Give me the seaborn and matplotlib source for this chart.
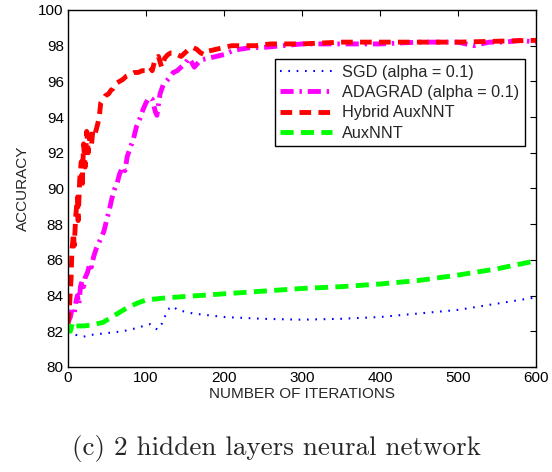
import matplotlib
matplotlib.use("Agg")
import matplotlib.pyplot as plt
import seaborn as sns
import pandas as pd

# ---------------- data ----------------
hyb_x = [0, 2, 4, 5, 7, 8, 10, 12, 13, 15, 17, 18, 20, 22, 24, 26, 28, 30, 32, 35, 38,
         40, 42, 45, 48, 52, 55, 58, 62, 66, 70, 75, 80, 85, 90, 95, 100, 105, 108, 112,
         116, 120, 124, 128, 132, 136, 140, 145, 150, 155, 160, 165, 170, 175, 180, 190,
         200, 210, 220, 240, 260, 280, 300, 350, 400, 450, 500, 550, 600]
hyb_y = [82.4, 83.5, 85.0, 86.5, 87.5, 86.8, 88.5, 89.5, 88.2, 90.5, 91.5, 90.0, 92.5, 91.2,
         93.2, 92.0, 93.0, 92.4, 93.3, 93.1, 93.6, 94.0, 94.8, 95.0, 95.2, 95.3, 95.5, 95.6,
         95.9, 96.0, 96.1, 96.3, 96.4, 96.5, 96.5, 96.6, 96.6, 96.8, 96.6, 97.3, 97.4, 96.8,
         97.3, 97.5, 97.6, 97.6, 97.5, 97.4, 97.6, 97.8, 97.9, 97.8, 97.6, 97.5, 97.7, 97.8,
         97.9, 98.0, 98.0, 98.0, 98.1, 98.1, 98.1, 98.2, 98.2, 98.2, 98.2, 98.25, 98.3]

ada_x = [0, 3, 5, 8, 10, 12, 14, 16, 18, 20, 22, 25, 28, 30, 33, 36, 40, 43, 46, 50, 53,
         56, 60, 63, 66, 70, 73, 76, 80, 84, 88, 92, 96, 100, 104, 108, 112, 114, 118, 122,
         126, 130, 135, 140, 145, 150, 155, 158, 162, 166, 170, 180, 190, 200, 210, 220,
         235, 250, 275, 300, 350, 400, 450, 500, 520, 540, 560, 580, 600]
ada_y = [82.5, 82.8, 83.2, 83.0, 83.6, 84.0, 83.5, 84.5, 84.8, 84.5, 85.0, 85.3, 85.8, 85.6,
         86.2, 86.6, 87.0, 87.3, 87.6, 88.3, 88.8, 89.4, 90.0, 90.3, 90.8, 91.2, 91.0, 91.8,
         92.3, 92.8, 93.5, 93.9, 94.4, 94.8, 95.1, 95.0, 94.3, 94.1, 95.3, 95.8, 96.0, 96.2,
         96.5, 96.6, 96.8, 97.0, 97.3, 97.1, 96.8, 97.0, 97.2, 97.3, 97.4, 97.5, 97.7, 97.8,
         97.9, 97.9, 98.0, 98.1, 98.1, 98.1, 98.2, 98.2, 98.0, 98.2, 98.2, 98.3, 98.2]

sgd_x = [0, 5, 10, 20, 30, 50, 70, 90, 100, 105, 110, 115, 120, 125, 130, 135, 140, 160,
         180, 200, 250, 300, 350, 400, 450, 500, 550, 600]
sgd_y = [82.0, 81.9, 81.8, 81.7, 81.8, 81.9, 82.0, 82.2, 82.35, 82.4, 82.2, 82.1, 82.4, 82.9,
         83.3, 83.4, 83.2, 83.0, 82.9, 82.8, 82.7, 82.65, 82.7, 82.8, 83.0, 83.2, 83.55, 83.9]

aux_x = [0, 3, 6, 10, 20, 30, 45, 60, 75, 90, 100, 120, 150, 200, 250, 300, 350, 400, 450,
         500, 550, 600]
aux_y = [82.3, 82.0, 82.5, 82.3, 82.3, 82.35, 82.5, 82.9, 83.3, 83.6, 83.75, 83.85, 83.95,
         84.1, 84.25, 84.4, 84.5, 84.65, 84.85, 85.15, 85.5, 85.95]

labels = ["SGD (alpha = 0.1)", "ADAGRAD (alpha = 0.1)", "Hybrid AuxNNT", "AuxNNT"]
x_ticks = [0, 100, 200, 300, 400, 500, 600]
y_ticks = [80, 82, 84, 86, 88, 90, 92, 94, 96, 98, 100]
caption = "(c) 2 hidden layers neural network"

# ---------------- plot ----------------
sns.set_style("white")
plt.rcParams["font.family"] = ["Liberation Sans", "DejaVu Sans"]

fig = plt.figure(figsize=(5.52, 4.72), dpi=100)
ax = fig.add_axes([68 / 552, 1 - 367 / 472, (536 - 68) / 552, (367 - 10) / 472])

series = [
    (sgd_x, sgd_y, labels[0], (0, 0, 1), 1.5, (0, (0.8, 3.2))),
    (ada_x, ada_y, labels[1], (1, 0, 1), 3.5, (0, (2.7, 1.2, 0.5, 1.2))),
    (hyb_x, hyb_y, labels[2], (1, 0, 0), 3.5, (0, (2.4, 1.5))),
    (aux_x, aux_y, labels[3], (0, 1, 0), 3.5, (0, (2.7, 1.5))),
]
for xs, ys, lab, col, lw, ls in series:
    df = pd.DataFrame({"iter": xs, "acc": ys})
    sns.lineplot(data=df, x="iter", y="acc", ax=ax, color=col, lw=lw,
                 linestyle=ls, label=lab, estimator=None)

ax.set_xlim(0, 600)
ax.set_ylim(80, 100)
ax.set_xticks(x_ticks)
ax.set_yticks(y_ticks)
ax.tick_params(direction="in", top=True, right=True, length=4, width=0.8,
               labelsize=11, colors="black", pad=3)
for s in ax.spines.values():
    s.set_visible(True)
    s.set_color("black")
    s.set_linewidth(1.0)
ax.set_xlabel("NUMBER OF ITERATIONS", fontsize=11, labelpad=1)
ax.set_ylabel("ACCURACY", fontsize=11, labelpad=6)

leg = ax.legend(loc="upper right", bbox_to_anchor=((525 - 68) / 468, (367 - 59) / 357),
                borderaxespad=0, fancybox=False, framealpha=1, edgecolor="black",
                fontsize=11.7, handlelength=3.2, labelspacing=0.33, borderpad=0.35,
                handletextpad=0.6)
leg.get_frame().set_linewidth(1.0)

fig.text(0.5, 1 - 448 / 472, caption, ha="center", va="center",
         fontsize=19.5, family=["cmr10", "DejaVu Serif"])

fig.savefig("out.png", dpi=100)
